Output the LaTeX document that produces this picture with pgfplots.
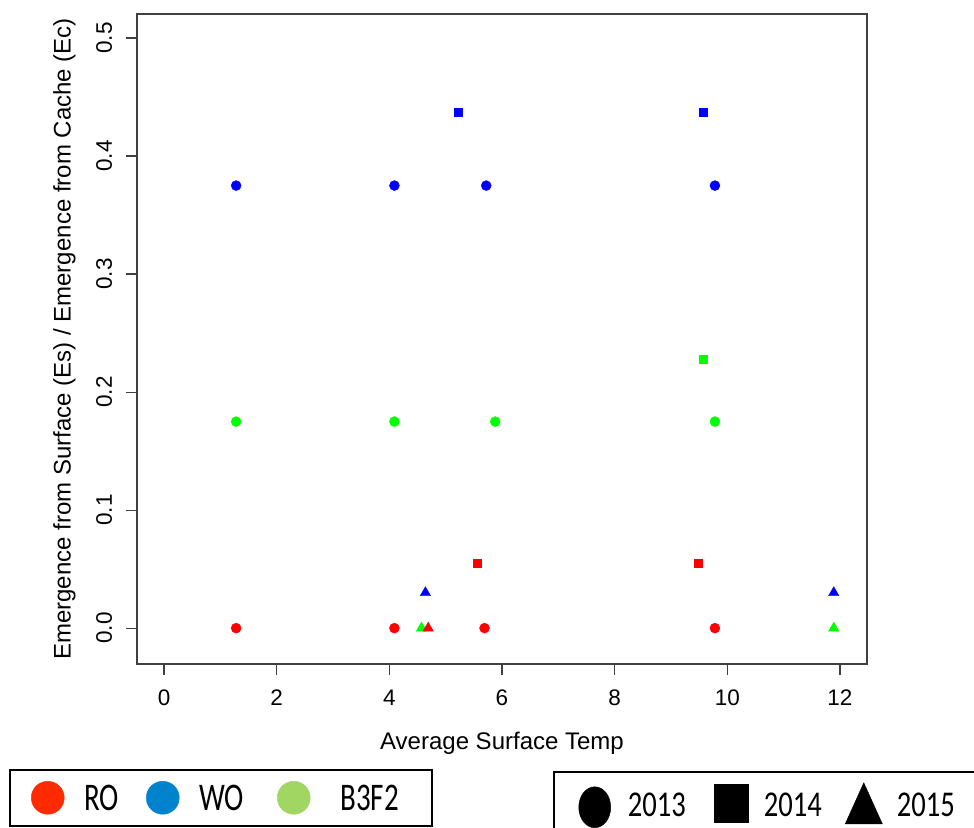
\documentclass[border=0pt]{standalone}
\usepackage{pgfplots}
\pgfplotsset{compat=1.18}
\usepackage{graphicx}
\usepackage{fontspec}
\setmainfont{Liberation Sans}
\newfontfamily\legfont{Carlito}

\definecolor{legred}{RGB}{255,42,0}
\definecolor{legblue}{RGB}{0,130,205}
\definecolor{leggreen}{RGB}{162,214,98}
\definecolor{boxgray}{gray}{0.25}

% legend texts are stretched vertically in the original
\newcommand\tA[2]{\makebox[#1][l]{\scalebox{1}[1.35]{#2}}}
\newcommand\tB[2]{\makebox[#1][l]{\scalebox{1}[1.27]{#2}}}

\begin{document}
\begin{tikzpicture}[x=1pt,y=1pt]
\useasboundingbox (0,0) rectangle (974,827);

% second legend: year symbols
\begin{axis}[
  at={(137pt,163pt)}, anchor=south west,
  width=730pt, height=650pt, scale only axis,
  hide axis, xmin=0, xmax=1, ymin=0, ymax=1,
  legend columns=3, legend cell align=left,
  legend style={at={(axis description cs:0.56986,-0.16462)}, anchor=north west,
    draw=black, line width=1.5pt, fill=white, inner xsep=24pt, inner ysep=3pt,
    nodes={inner sep=0pt, text depth=0pt}, font=\legfont\fontsize{28.6}{28.6}\selectfont},
  legend image code/.code={\path[draw=none,fill=none] (0pt,-30pt) rectangle (50pt,30pt);
    \draw[line width=0.4pt,#1] plot coordinates {(17pt,0pt)};},
]
\addlegendimage{only marks, mark=*, mark size=16pt, black, mark options={yshift=-2.5pt, yscale=1.28}}
\addlegendentry{\tB{86pt}{2013}}
\addlegendimage{only marks, mark=square*, mark size=17pt, black, mark options={yshift=1.5pt, yscale=1.12}}
\addlegendentry{\tB{81.5pt}{2014}}
\addlegendimage{only marks, mark=triangle*, mark size=21.4pt, black, mark options={yshift=-5.4pt, yscale=1.28}}
\addlegendentry{\tB{60pt}{2015}}
\end{axis}

\begin{axis}[
  at={(137pt,163pt)}, anchor=south west,
  width=730pt, height=650pt, scale only axis,
  xmin=-0.48, xmax=12.48, ymin=-0.0304, ymax=0.5204,
  axis line style={draw=boxgray, line width=1.2pt},
  xtick={0,2,4,6,8,10,12}, ytick={0,0.1,0.2,0.3,0.4,0.5},
  tick pos=left, tick align=outside, major tick length=11pt,
  tick style={draw=boxgray, line width=1.2pt},
  xticklabel shift=11pt, yticklabel shift=14pt,
  /pgf/number format/assume math mode=true,
  tick label style={font=\fontsize{22.5}{22.5}\selectfont},
  yticklabel style={rotate=90, anchor=base,
    /pgf/number format/.cd, fixed, fixed zerofill, precision=1},
  xlabel={Average Surface Temp},
  ylabel={Emergence from Surface (Es) / Emergence from Cache (Ec)},
  every axis x label/.style={at={(axis description cs:0.5,-0.1323)}, anchor=base,
    font=\fontsize{24}{24}\selectfont},
  every axis y label/.style={at={(axis description cs:-0.0911,0.5)}, anchor=base, rotate=90,
    font=\fontsize{24}{24}\selectfont},
  legend columns=3, legend cell align=left,
  legend style={at={(axis description cs:-0.17534,-0.16154)}, anchor=north west,
    draw=black, line width=1.5pt, fill=white, inner xsep=21.5pt, inner ysep=5.5pt,
    nodes={inner sep=0pt, text depth=0pt}, font=\legfont\fontsize{29}{29}\selectfont},
  legend image code/.code={\path[draw=none,fill=none] (0pt,-22.5pt) rectangle (53pt,22.5pt);
    \draw[line width=0.4pt,#1] plot coordinates {(16.5pt,0pt)};},
]
\addlegendimage{only marks, mark=*, mark size=16.5pt, legred}
\addlegendentry{\tA{62pt}{RO}}
\addlegendimage{only marks, mark=*, mark size=16.5pt, legblue}
\addlegendentry{\tA{78pt}{WO}}
\addlegendimage{only marks, mark=*, mark size=16.5pt, leggreen}
\addlegendentry{\tA{80pt}{\hspace{10pt}B3F2}}

% WO
\addplot[only marks, mark=*, mark size=5pt, blue, forget plot]
  coordinates {(1.28,0.375) (4.09,0.375) (5.72,0.375) (9.78,0.375)};
\addplot[only marks, mark=square*, mark size=4pt, blue, forget plot]
  coordinates {(5.22,0.4375) (9.58,0.4375)};
\addplot[only marks, mark=triangle*, mark size=6pt, blue, forget plot]
  coordinates {(4.64,0.03) (11.89,0.03)};
% B3F2
\addplot[only marks, mark=*, mark size=5pt, green, forget plot]
  coordinates {(1.28,0.175) (4.09,0.175) (5.88,0.175) (9.78,0.175)};
\addplot[only marks, mark=square*, mark size=4pt, green, forget plot]
  coordinates {(9.58,0.228)};
\addplot[only marks, mark=triangle*, mark size=6pt, green, forget plot]
  coordinates {(4.57,0) (11.89,0)};
% RO
\addplot[only marks, mark=*, mark size=5pt, red, forget plot]
  coordinates {(1.28,0) (4.09,0) (5.69,0) (9.78,0)};
\addplot[only marks, mark=square*, mark size=4pt, red, forget plot]
  coordinates {(5.56,0.055) (9.48,0.055)};
\addplot[only marks, mark=triangle*, mark size=6pt, red, forget plot]
  coordinates {(4.69,0)};
\end{axis}
\end{tikzpicture}
\end{document}
